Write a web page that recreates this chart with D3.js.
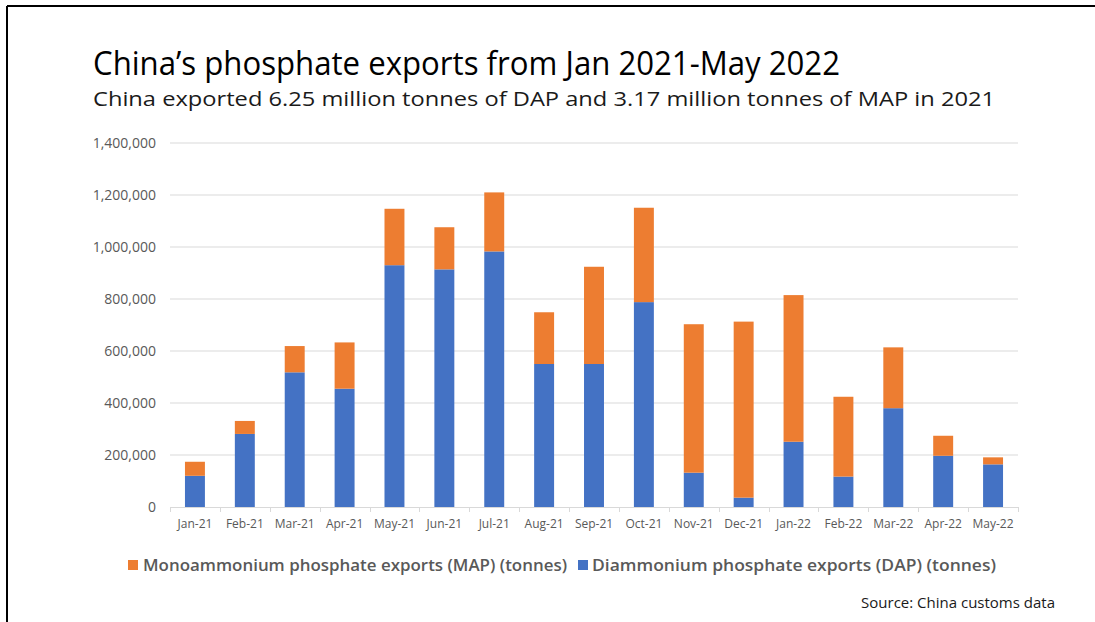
<!DOCTYPE html>
<html>
<head>
<meta charset="utf-8">
<script src="https://cdn.jsdelivr.net/npm/d3@7"></script>
<style>
  html, body { margin: 0; padding: 0; background: #fff; }
  svg { display: block; }
  text { font-family: "Open Sans", "Noto Sans", sans-serif; }
</style>
</head>
<body>
<svg id="chart" width="1095" height="622"></svg>
<script>
// ---- data ----
const months = ["Jan-21","Feb-21","Mar-21","Apr-21","May-21","Jun-21","Jul-21","Aug-21","Sep-21","Oct-21","Nov-21","Dec-21","Jan-22","Feb-22","Mar-22","Apr-22","May-22"];
const dapValues = [120000, 281000, 518000, 455000, 930000, 914000, 983000, 550000, 550000, 788000, 132000, 36000, 251000, 117000, 380000, 197000, 164000];
const mapValues = [54000, 50000, 101000, 178000, 217000, 162000, 227000, 199000, 374000, 363000, 571000, 677000, 564000, 307000, 234000, 77000, 27000];
const yTicks = [0, 200000, 400000, 600000, 800000, 1000000, 1200000, 1400000];
const seriesNames = ["Monoammonium phosphate exports (MAP) (tonnes)", "Diammonium phosphate exports (DAP) (tonnes)"];
const titleText = "China\u2019s phosphate exports from Jan 2021-May 2022";
const subtitleText = "China exported 6.25 million tonnes of DAP and 3.17 million tonnes of MAP in 2021";
const sourceText = "Source: China customs data";

const colors = { dap: "#4472C4", map: "#ED7D31" };

const rows = months.map((m, i) => ({ month: m, dap: dapValues[i], map: mapValues[i] }));

const svg = d3.select("#chart");

// border (top + left)
svg.append("line").attr("x1", 7).attr("x2", 1095).attr("y1", 6).attr("y2", 6)
  .attr("stroke", "#000").attr("stroke-width", 2);
svg.append("line").attr("x1", 7).attr("x2", 7).attr("y1", 6).attr("y2", 622)
  .attr("stroke", "#000").attr("stroke-width", 2);

// titles
svg.append("text").attr("x", 93).attr("y", 75)
  .attr("font-size", 32).attr("fill", "#000")
  .attr("textLength", 747).attr("lengthAdjust", "spacingAndGlyphs")
  .text(titleText);
svg.append("text").attr("x", 93).attr("y", 106)
  .attr("font-size", 20).attr("fill", "#1a1a1a")
  .attr("textLength", 902).attr("lengthAdjust", "spacingAndGlyphs")
  .text(subtitleText);

// scales
const plot = { left: 170, right: 1018, top: 143, bottom: 507 };
const x = d3.scaleBand().domain(months).range([plot.left, plot.right])
  .paddingInner(0.6).paddingOuter(0.3);
const y = d3.scaleLinear().domain([0, 1400000]).range([plot.bottom, plot.top]);

// grid
svg.append("g").selectAll("line").data(yTicks.filter(d => d > 0)).join("line")
  .attr("x1", plot.left).attr("x2", plot.right)
  .attr("y1", d => y(d)).attr("y2", d => y(d))
  .attr("stroke", "#d9d9d9").attr("stroke-width", 1);

// y axis labels
const yAxis = d3.axisLeft(y).tickValues(yTicks).tickFormat(d3.format(",")).tickSize(0).tickPadding(0);
const gy = svg.append("g").attr("transform", `translate(${plot.left - 14},0)`).call(yAxis);
gy.select(".domain").remove();
gy.selectAll("text").attr("font-size", 14).attr("fill", "#595959")
  .style("font-family", '"Open Sans", sans-serif');

// bars
const stack = d3.stack().keys(["dap", "map"]);
const stacked = stack(rows);
svg.append("g").selectAll("g").data(stacked).join("g")
  .attr("fill", d => colors[d.key])
  .selectAll("rect").data(d => d).join("rect")
  .attr("x", d => x(d.data.month))
  .attr("width", x.bandwidth())
  .attr("y", d => y(d[1]))
  .attr("height", d => y(d[0]) - y(d[1]));

// x axis baseline and boundary ticks
svg.append("line").attr("x1", plot.left).attr("x2", plot.right)
  .attr("y1", plot.bottom + 0.5).attr("y2", plot.bottom + 0.5)
  .attr("stroke", "#d9d9d9").attr("stroke-width", 1);
const bounds = d3.range(months.length + 1).map(i => plot.left + (plot.right - plot.left) * i / months.length);
svg.append("g").selectAll("line").data(bounds).join("line")
  .attr("x1", d => Math.round(d) + 0.5).attr("x2", d => Math.round(d) + 0.5)
  .attr("y1", plot.bottom).attr("y2", plot.bottom + 5)
  .attr("stroke", "#d9d9d9").attr("stroke-width", 1);

// x labels
const xAxis = d3.axisBottom(x).tickSize(0).tickPadding(0);
const gx = svg.append("g").attr("transform", `translate(0,${plot.bottom + 12})`).call(xAxis);
gx.select(".domain").remove();
gx.selectAll("text").attr("font-size", 12).attr("fill", "#595959")
  .style("font-family", '"Open Sans", sans-serif');

// legend
const legendItems = [
  { name: seriesNames[0], color: colors.map, sx: 128, tx: 143, len: 424 },
  { name: seriesNames[1], color: colors.dap, sx: 578, tx: 592, len: 404 }
];
const lg = svg.append("g");
legendItems.forEach(it => {
  lg.append("rect").attr("x", it.sx).attr("y", 560).attr("width", 10).attr("height", 10).attr("fill", it.color);
  lg.append("text").attr("x", it.tx).attr("y", 571)
    .attr("font-size", 17).attr("font-weight", 600).attr("fill", "#595959")
    .attr("textLength", it.len).attr("lengthAdjust", "spacingAndGlyphs")
    .text(it.name);
});

// source
svg.append("text").attr("x", 1055).attr("y", 608).attr("text-anchor", "end")
  .attr("font-size", 15).attr("fill", "#1a1a1a").text(sourceText);
</script>
</body>
</html>
